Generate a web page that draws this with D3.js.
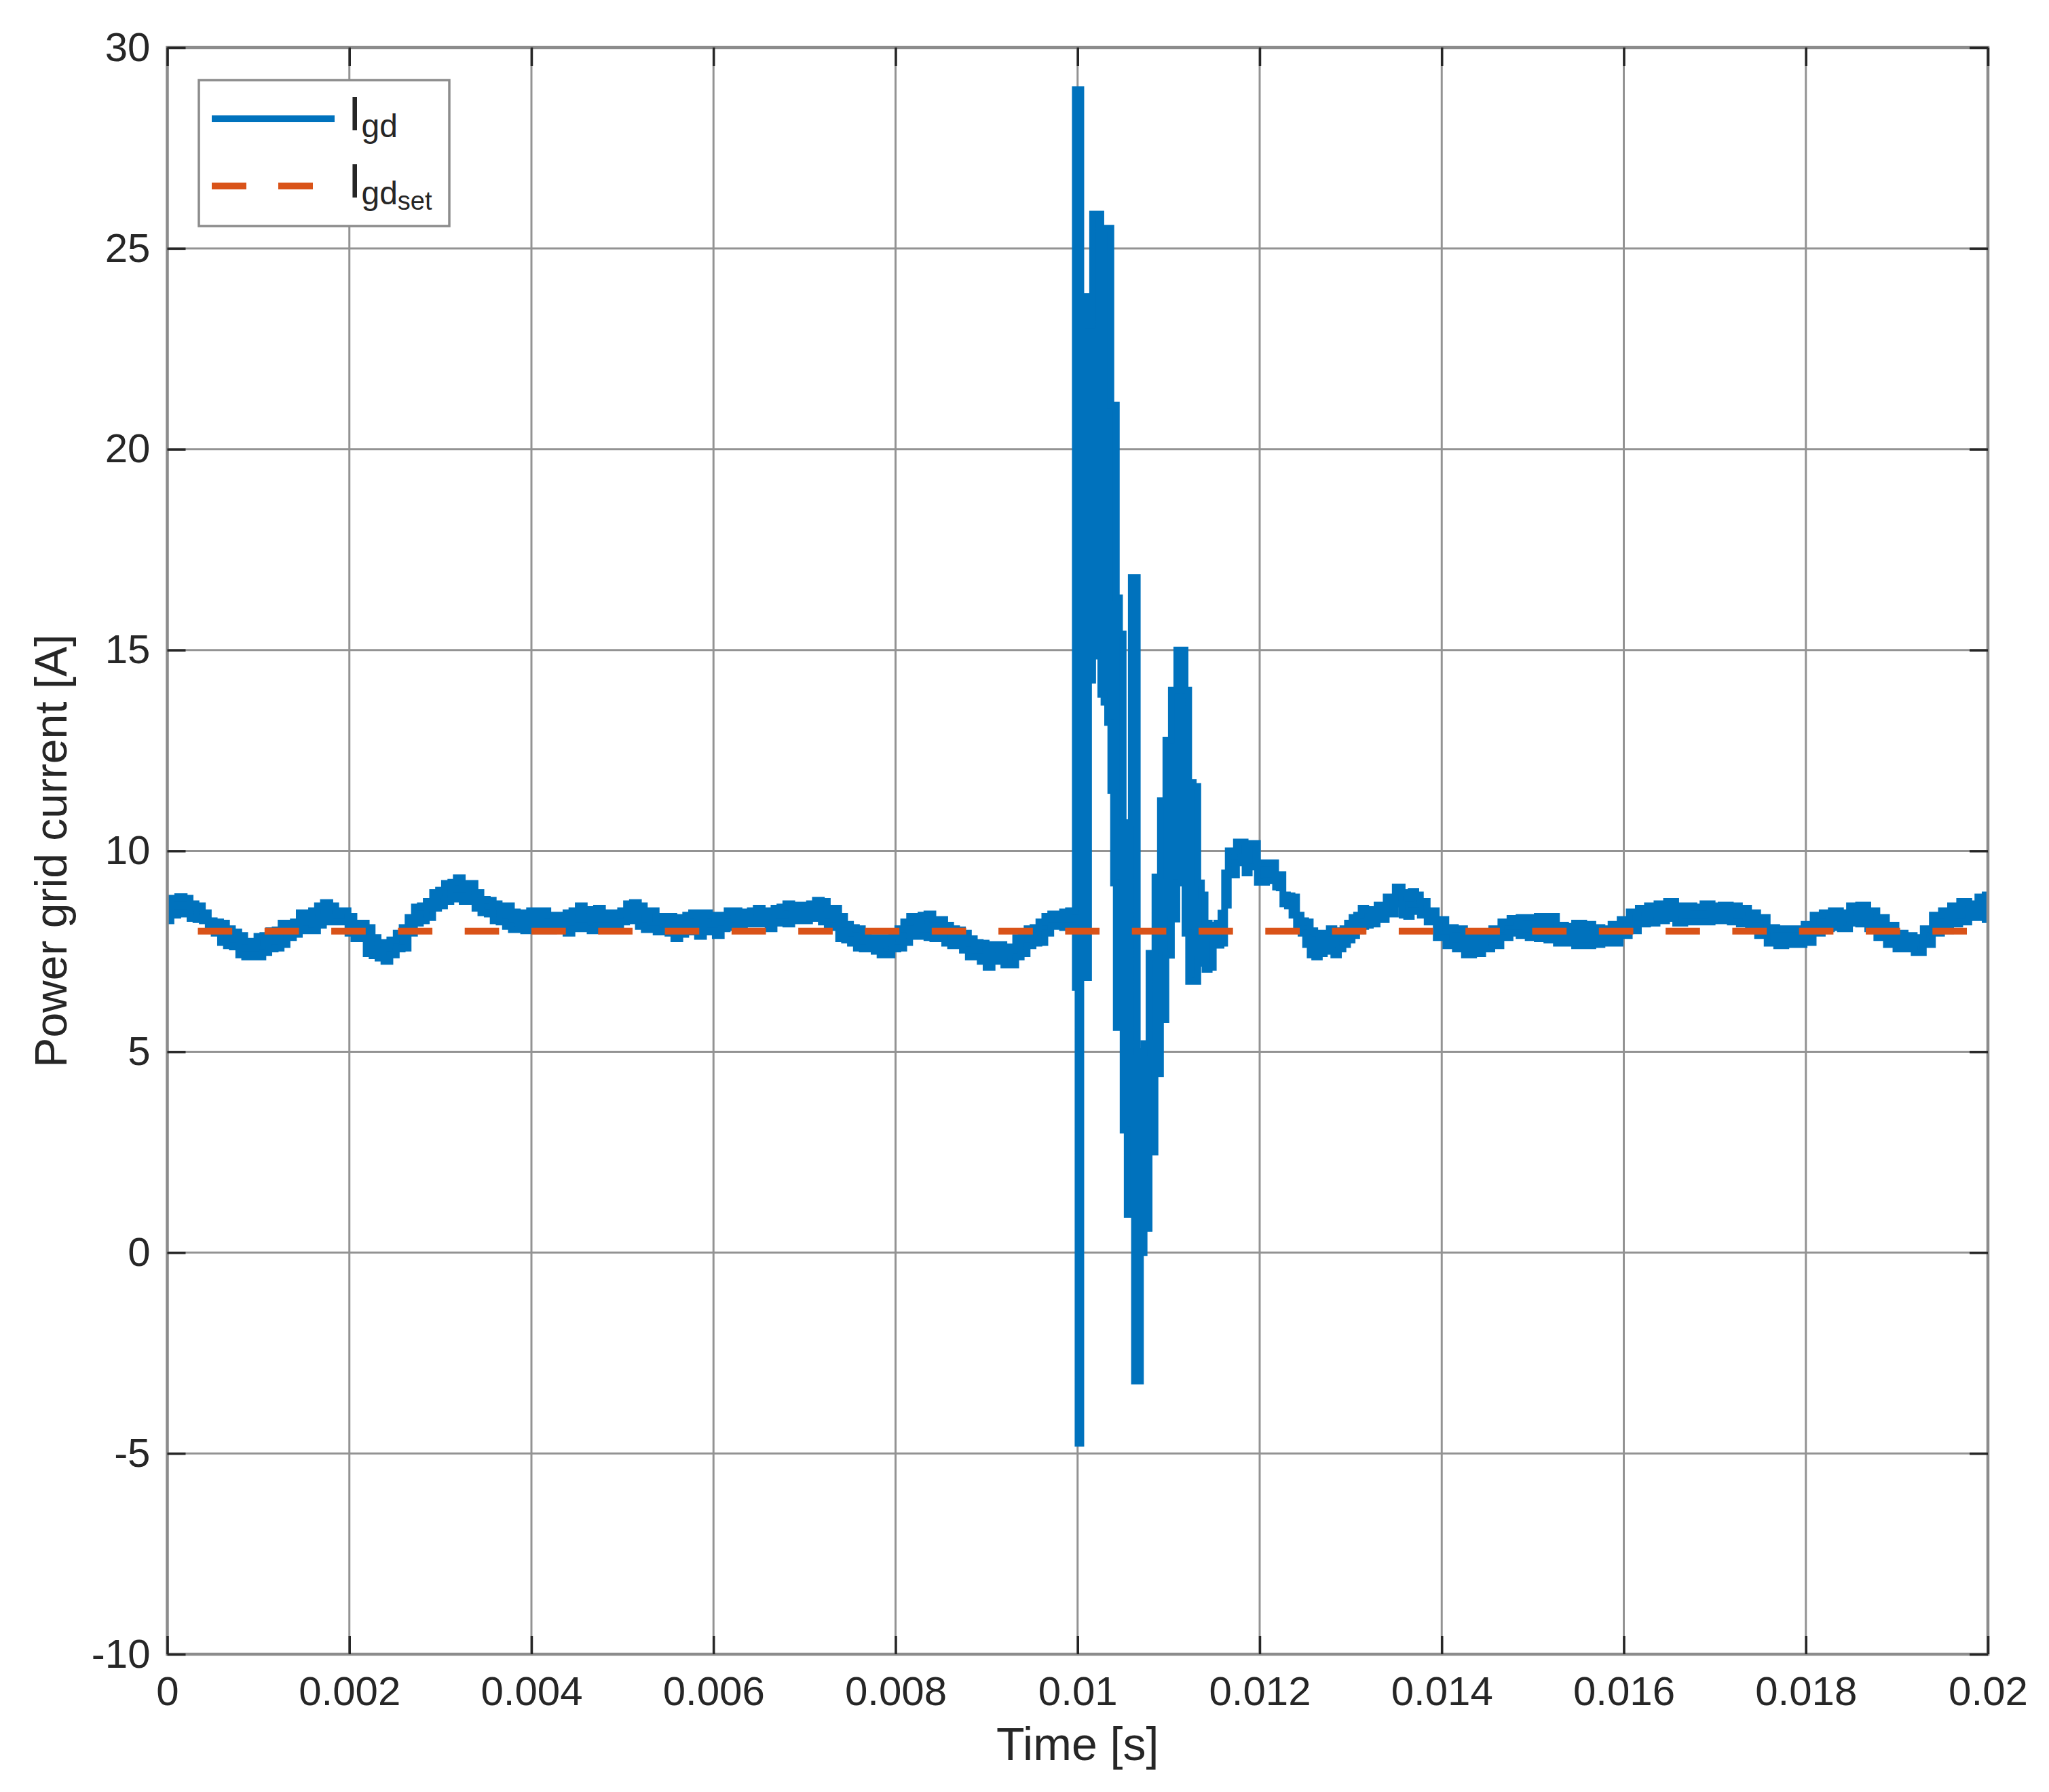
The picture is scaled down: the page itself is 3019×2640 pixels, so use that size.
<!DOCTYPE html>
<html>
<head>
<meta charset="utf-8">
<script src="https://cdn.jsdelivr.net/npm/d3@7"></script>
<style>
  html, body { margin: 0; padding: 0; background: #fff; }
  svg { display: block; font-family: "Liberation Sans", Arial, sans-serif; }
</style>
</head>
<body>
<div id="chart"></div>
<script>
// measured signal, stored as a min/max band per time bin (time in ms, current in A)
const currentT = [
  0.00, 0.08, 0.15, 0.22, 0.28, 0.35, 0.42, 0.48, 0.55, 0.62, 0.68, 0.75, 0.82, 0.88, 0.95,
  1.02, 1.08, 1.15, 1.22, 1.28, 1.35, 1.42, 1.48, 1.55, 1.62, 1.68, 1.75, 1.82, 1.88, 1.95,
  2.02, 2.08, 2.15, 2.22, 2.28, 2.35, 2.41, 2.48, 2.55, 2.61, 2.68, 2.75, 2.81, 2.88, 2.95,
  3.01, 3.08, 3.15, 3.20, 3.28, 3.35, 3.41, 3.48, 3.55, 3.61, 3.68, 3.75, 3.81, 3.88, 3.95,
  4.01, 4.08, 4.15, 4.21, 4.28, 4.35, 4.41, 4.48, 4.55, 4.61, 4.68, 4.75, 4.81, 4.88, 4.95,
  5.01, 5.08, 5.14, 5.21, 5.27, 5.34, 5.40, 5.47, 5.53, 5.60, 5.66, 5.73, 5.79, 5.86, 5.92,
  5.99, 6.05, 6.12, 6.18, 6.25, 6.31, 6.37, 6.44, 6.50, 6.57, 6.63, 6.70, 6.76, 6.83, 6.89,
  6.96, 7.02, 7.09, 7.15, 7.22, 7.28, 7.34, 7.41, 7.47, 7.54, 7.60, 7.67, 7.73, 7.80, 7.86,
  7.93, 7.99, 8.06, 8.12, 8.19, 8.25, 8.31, 8.38, 8.44, 8.51, 8.57, 8.64, 8.70, 8.77, 8.83,
  8.90, 8.96, 9.03, 9.09, 9.16, 9.22, 9.29, 9.35, 9.41, 9.48, 9.54, 9.61, 9.67, 9.74, 9.80,
  9.87, 9.93, 9.96, 9.99, 10.02, 10.05, 10.10, 10.14, 10.19, 10.24, 10.27, 10.31, 10.35, 10.38, 10.41,
  10.44, 10.48, 10.52, 10.57, 10.61, 10.64, 10.67, 10.71, 10.75, 10.82, 10.88, 10.94, 11.00, 11.06, 11.12,
  11.16, 11.20, 11.24, 11.30, 11.34, 11.38, 11.42, 11.47, 11.51, 11.55, 11.60, 11.63, 11.68, 11.72, 11.77,
  11.82, 11.86, 11.91, 11.95, 12.00, 12.05, 12.10, 12.15, 12.20, 12.23, 12.28, 12.33, 12.38, 12.43, 12.48,
  12.53, 12.58, 12.63, 12.68, 12.74, 12.79, 12.84, 12.89, 12.94, 12.99, 13.04, 13.09, 13.14, 13.19, 13.24,
  13.34, 13.44, 13.54, 13.59, 13.64, 13.69, 13.74, 13.79, 13.89, 13.99, 14.10, 14.20, 14.30, 14.40, 14.50,
  14.60, 14.70, 14.80, 14.90, 15.00, 15.10, 15.21, 15.31, 15.41, 15.51, 15.61, 15.71, 15.81, 15.91, 16.01,
  16.11, 16.21, 16.31, 16.42, 16.52, 16.62, 16.72, 16.82, 16.92, 17.02, 17.12, 17.22, 17.32, 17.42, 17.52,
  17.63, 17.73, 17.83, 17.93, 18.03, 18.13, 18.23, 18.33, 18.43, 18.53, 18.63, 18.73, 18.83, 18.94, 19.04,
  19.14, 19.24, 19.34, 19.44, 19.54, 19.64, 19.74, 19.84, 19.94, 20.00
];
const currentHi = [
  8.71, 8.82, 8.86, 8.82, 8.68, 8.63, 8.46, 8.26, 8.23, 8.20, 8.06, 7.98, 7.89, 7.75, 7.72,
  7.87, 7.89, 8.01, 8.03, 8.20, 8.20, 8.23, 8.46, 8.46, 8.51, 8.63, 8.71, 8.63, 8.51, 8.51,
  8.37, 8.17, 8.20, 8.09, 7.84, 7.72, 7.67, 7.78, 7.95, 8.09, 8.34, 8.60, 8.63, 8.74, 8.96,
  9.02, 9.19, 9.22, 9.33, 9.19, 9.19, 8.96, 8.79, 8.77, 8.68, 8.63, 8.63, 8.48, 8.46, 8.46,
  8.51, 8.46, 8.51, 8.40, 8.37, 8.40, 8.46, 8.51, 8.63, 8.54, 8.51, 8.57, 8.46, 8.46, 8.46,
  8.51, 8.68, 8.71, 8.63, 8.51, 8.51, 8.32, 8.37, 8.37, 8.29, 8.34, 8.40, 8.46, 8.32, 8.46,
  8.40, 8.32, 8.40, 8.51, 8.51, 8.48, 8.46, 8.51, 8.57, 8.48, 8.51, 8.57, 8.60, 8.68, 8.57,
  8.65, 8.63, 8.68, 8.77, 8.74, 8.57, 8.57, 8.37, 8.17, 8.09, 8.06, 7.89, 7.84, 7.84, 7.84,
  7.81, 7.89, 8.06, 8.23, 8.37, 8.26, 8.40, 8.43, 8.29, 8.29, 8.15, 8.06, 8.03, 7.95, 7.81,
  7.72, 7.70, 7.55, 7.67, 7.67, 7.61, 7.61, 7.84, 7.95, 8.06, 8.09, 8.23, 8.37, 8.43, 8.43,
  8.48, 8.51, 8.50, 28.95, 28.95, 23.80, 23.80, 23.10, 25.85, 25.85, 25.05, 25.50, 25.50, 21.10, 21.10,
  16.30, 15.40, 10.70, 10.70, 16.80, 16.80, 5.00, 5.00, 5.20, 7.45, 9.35, 11.25, 12.75, 14.00, 15.00,
  15.00, 14.00, 11.70, 11.60, 9.20, 8.90, 8.20, 8.10, 8.15, 8.20, 8.45, 9.45, 10.00, 10.00, 10.22,
  10.22, 9.78, 10.18, 10.18, 9.70, 9.70, 9.70, 9.70, 9.40, 9.41, 8.90, 8.88, 8.85, 8.40, 8.26,
  8.23, 8.01, 7.95, 7.84, 7.95, 8.06, 7.95, 8.01, 8.06, 8.20, 8.34, 8.40, 8.57, 8.54, 8.51,
  8.65, 8.85, 9.10, 8.96, 8.82, 8.99, 8.90, 8.74, 8.51, 8.29, 8.09, 8.06, 7.95, 7.98, 7.95,
  8.06, 8.23, 8.32, 8.34, 8.34, 8.37, 8.37, 8.15, 8.12, 8.20, 8.17, 8.09, 8.06, 8.17, 8.29,
  8.48, 8.57, 8.63, 8.68, 8.74, 8.63, 8.63, 8.60, 8.68, 8.63, 8.65, 8.63, 8.57, 8.46, 8.34,
  8.09, 8.06, 8.06, 8.06, 8.17, 8.40, 8.46, 8.51, 8.46, 8.63, 8.65, 8.51, 8.34, 8.15, 7.95,
  7.89, 7.84, 8.06, 8.40, 8.51, 8.63, 8.74, 8.68, 8.85, 8.90
];
const currentLo = [
  8.26, 8.40, 8.46, 8.43, 8.32, 8.29, 8.26, 8.06, 7.95, 7.72, 7.64, 7.61, 7.41, 7.36, 7.41,
  7.36, 7.47, 7.56, 7.58, 7.67, 7.84, 7.92, 8.06, 8.01, 8.01, 8.15, 8.26, 8.23, 8.23, 8.23,
  7.95, 7.81, 7.84, 7.44, 7.39, 7.33, 7.25, 7.41, 7.56, 7.58, 7.95, 8.20, 8.26, 8.34, 8.57,
  8.63, 8.74, 8.80, 8.88, 8.74, 8.74, 8.57, 8.46, 8.43, 8.26, 8.23, 8.12, 8.04, 8.04, 8.01,
  8.04, 8.01, 8.01, 8.01, 8.04, 8.04, 7.95, 8.06, 8.12, 8.06, 8.01, 8.12, 8.06, 8.12, 8.15,
  8.23, 8.26, 8.32, 8.12, 8.04, 8.06, 7.98, 8.01, 7.95, 7.81, 7.92, 8.01, 7.98, 7.87, 7.98,
  8.01, 7.89, 8.06, 8.09, 8.12, 8.15, 8.18, 8.20, 8.18, 8.20, 8.06, 8.20, 8.23, 8.18, 8.26,
  8.26, 8.26, 8.32, 8.37, 8.23, 8.12, 8.09, 7.81, 7.78, 7.70, 7.58, 7.56, 7.56, 7.50, 7.41,
  7.41, 7.56, 7.58, 7.72, 7.98, 7.87, 7.89, 7.84, 7.81, 7.84, 7.70, 7.64, 7.67, 7.53, 7.36,
  7.36, 7.25, 7.10, 7.25, 7.25, 7.16, 7.16, 7.36, 7.44, 7.64, 7.70, 7.72, 7.95, 8.12, 8.12,
  8.09, 8.12, 8.10, 6.60, -4.75, 6.85, 6.85, 14.25, 14.90, 14.85, 13.90, 13.70, 13.20, 11.50, 9.20,
  5.60, 5.60, 3.05, 0.95, 0.95, -3.20, -3.20, 0.00, 0.60, 2.50, 4.45, 5.80, 7.40, 8.30, 9.20,
  9.30, 7.95, 6.75, 6.75, 7.30, 7.20, 7.05, 7.10, 7.65, 7.65, 7.70, 8.65, 9.40, 9.40, 9.70,
  9.85, 9.45, 9.60, 9.60, 9.22, 9.22, 9.26, 9.26, 9.10, 9.08, 8.68, 8.63, 8.40, 8.06, 7.95,
  7.67, 7.41, 7.36, 7.44, 7.50, 7.50, 7.41, 7.56, 7.67, 7.78, 7.89, 8.01, 8.12, 8.15, 8.18,
  8.29, 8.43, 8.68, 8.40, 8.37, 8.51, 8.49, 8.40, 8.23, 7.84, 7.64, 7.56, 7.41, 7.44, 7.56,
  7.64, 7.84, 7.95, 7.89, 7.84, 7.81, 7.78, 7.70, 7.70, 7.64, 7.64, 7.67, 7.70, 7.70, 7.89,
  8.01, 8.18, 8.20, 8.26, 8.32, 8.20, 8.23, 8.23, 8.23, 8.26, 8.26, 8.23, 8.18, 8.12, 7.89,
  7.70, 7.64, 7.67, 7.67, 7.72, 7.95, 8.06, 8.09, 8.06, 8.20, 8.18, 8.06, 7.84, 7.67, 7.56,
  7.56, 7.47, 7.67, 7.95, 8.01, 8.18, 8.23, 8.34, 8.34, 8.29
];
// reference value
const setpointT = [0, 20];
const setpointI = [8, 8];

const xTicks = [0, 0.002, 0.004, 0.006, 0.008, 0.01, 0.012, 0.014, 0.016, 0.018, 0.02];
const yTicks = [-10, -5, 0, 5, 10, 15, 20, 25, 30];

const seriesNames = ['gd', 'gdset'];

const width = 3019, height = 2640;
const plot = { left: 246.5, right: 2929, top: 70, bottom: 2437 };
const blue = '#0072BD', orange = '#D95319';
const textColor = '#262626';

const svg = d3.select('#chart').append('svg')
  .attr('width', width)
  .attr('height', height);

const x = d3.scaleLinear().domain([0, 0.02]).range([plot.left, plot.right]);
const y = d3.scaleLinear().domain([-10, 30]).range([plot.bottom, plot.top]);

svg.append('defs').append('clipPath').attr('id', 'plotclip')
  .append('rect')
  .attr('x', plot.left).attr('y', plot.top)
  .attr('width', plot.right - plot.left).attr('height', plot.bottom - plot.top);

// grid
const grid = svg.append('g').attr('stroke', '#939393').attr('stroke-width', 3);
grid.selectAll('.vgrid').data(xTicks).join('line')
  .attr('x1', d => x(d)).attr('x2', d => x(d))
  .attr('y1', plot.top).attr('y2', plot.bottom);
grid.selectAll('.hgrid').data(yTicks).join('line')
  .attr('x1', plot.left).attr('x2', plot.right)
  .attr('y1', d => y(d)).attr('y2', d => y(d));

// signal band
const band = currentT.map((t, i) => ({ t: t / 1000, hi: currentHi[i], lo: currentLo[i] }));
const area = d3.area()
  .x(d => x(d.t))
  .y0(d => y(d.lo))
  .y1(d => y(d.hi))
  .curve(d3.curveStep);

const plotArea = svg.append('g').attr('clip-path', 'url(#plotclip)');
plotArea.append('path')
  .datum(band)
  .attr('d', area)
  .attr('fill', blue)
  .attr('stroke', blue)
  .attr('stroke-width', 10)
  .attr('stroke-linejoin', 'miter');

// setpoint
const setLine = d3.line().x(d => x(d[0] / 1000)).y(d => y(d[1]));
plotArea.append('path')
  .datum(setpointT.map((t, i) => [t, setpointI[i]]))
  .attr('d', setLine)
  .attr('fill', 'none')
  .attr('stroke', orange)
  .attr('stroke-width', 10)
  .attr('stroke-dasharray', '50.7 47.6')
  .attr('stroke-dashoffset', 53.3);

// frame
svg.append('rect')
  .attr('x', plot.left).attr('y', plot.top)
  .attr('width', plot.right - plot.left).attr('height', plot.bottom - plot.top)
  .attr('fill', 'none')
  .attr('stroke', '#8c8c8c')
  .attr('stroke-width', 4.5);

// axes
const fmt = d => String(+d.toFixed(3));
const styleAxis = g => {
  g.select('.domain').remove();
  g.selectAll('.tick line').attr('stroke', textColor).attr('stroke-width', 3.5);
  g.selectAll('.tick text').attr('fill', textColor).attr('font-size', 60)
    .attr('font-family', '"Liberation Sans", Arial, sans-serif');
};
svg.append('g')
  .attr('transform', `translate(0,${plot.bottom})`)
  .call(d3.axisBottom(x).tickValues(xTicks).tickFormat(fmt).tickSize(-27).tickPadding(32))
  .call(styleAxis);
svg.append('g')
  .attr('transform', `translate(0,${plot.top})`)
  .call(d3.axisTop(x).tickValues(xTicks).tickFormat('').tickSize(-27))
  .call(styleAxis);
svg.append('g')
  .attr('transform', `translate(${plot.left},0)`)
  .call(d3.axisLeft(y).tickValues(yTicks).tickFormat(d => String(d)).tickSize(-27).tickPadding(25))
  .call(styleAxis);
svg.append('g')
  .attr('transform', `translate(${plot.right},0)`)
  .call(d3.axisRight(y).tickValues(yTicks).tickFormat('').tickSize(-27))
  .call(styleAxis);

// axis titles
svg.append('text')
  .attr('x', (plot.left + plot.right) / 2)
  .attr('y', 2593)
  .attr('text-anchor', 'middle')
  .attr('font-size', 68)
  .attr('fill', textColor)
  .text('Time [s]');
svg.append('text')
  .attr('transform', `translate(98,${(plot.top + plot.bottom) / 2}) rotate(-90)`)
  .attr('text-anchor', 'middle')
  .attr('font-size', 66)
  .attr('fill', textColor)
  .text('Power grid current [A]');

// legend
const legend = svg.append('g').attr('transform', `translate(${plot.left + 46.5},${plot.top + 48})`);
legend.append('rect')
  .attr('width', 369).attr('height', 215)
  .attr('fill', '#fff')
  .attr('stroke', '#8c8c8c')
  .attr('stroke-width', 3.5);

const entries = legend.selectAll('.entry')
  .data(seriesNames)
  .join('g')
  .attr('transform', (d, i) => `translate(0,${57 + i * 99})`);
entries.append('line')
  .attr('x1', 19).attr('x2', 200)
  .attr('stroke', (d, i) => i === 0 ? blue : orange)
  .attr('stroke-width', 10)
  .attr('stroke-dasharray', (d, i) => i === 0 ? null : '51 47');

const label = entries.append('text')
  .attr('x', 220)
  .attr('y', 17)
  .attr('fill', textColor)
  .attr('font-size', 70);
label.append('tspan').text('I');
label.append('tspan').attr('font-size', 48).attr('dy', 10).text('gd');
label.filter(d => d === 'gdset')
  .append('tspan').attr('font-size', 38).attr('dy', 8).text('set');
</script>
</body>
</html>
